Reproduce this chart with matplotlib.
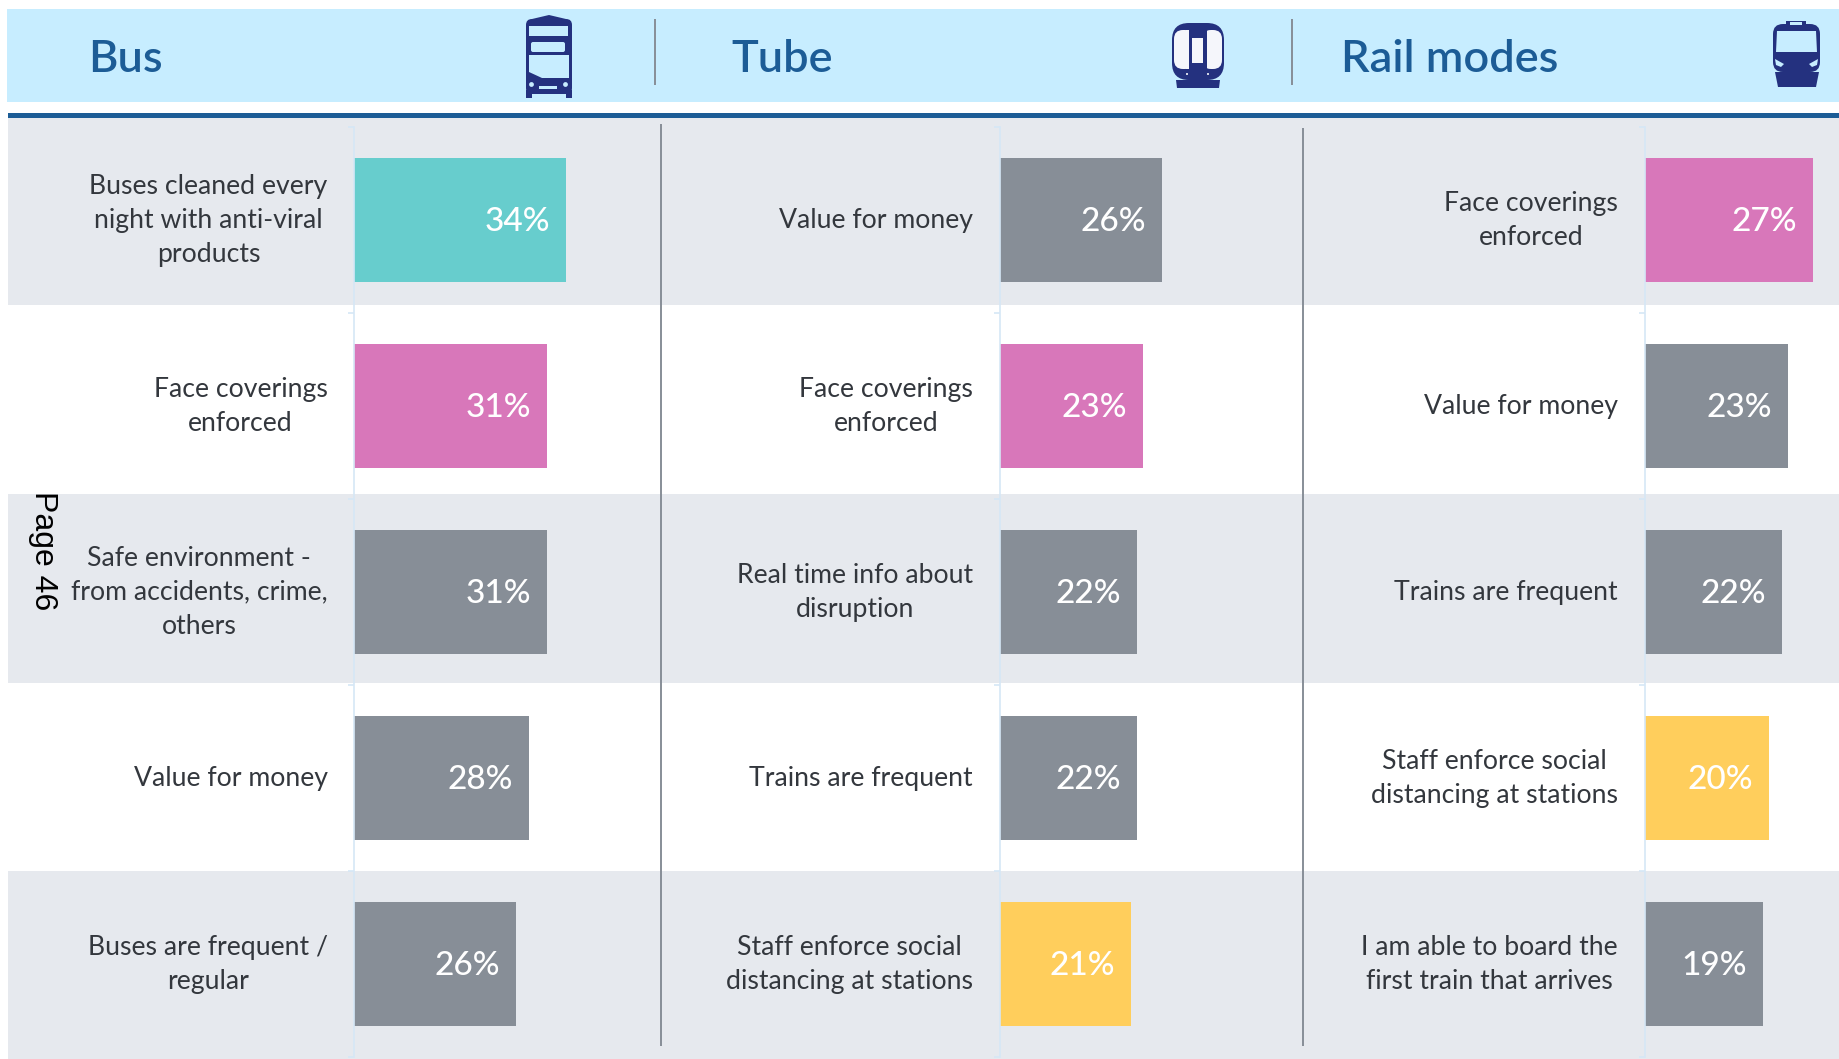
"""Top reasons by mode: bus, tube and rail, one bar panel per mode."""
import matplotlib

matplotlib.use("Agg")
import matplotlib.pyplot as plt
import numpy as np
from matplotlib.patches import Circle, FancyBboxPatch, Polygon, Rectangle

W, H = 1839, 1059

modes = ["Bus", "Tube", "Rail modes"]

bus_labels = [
    "Buses cleaned every\nnight with anti-viral\nproducts",
    "Face coverings\nenforced",
    "Safe environment -\nfrom accidents, crime,\nothers",
    "Value for money",
    "Buses are frequent /\nregular",
]
tube_labels = [
    "Value for money",
    "Face coverings\nenforced",
    "Real time info about\ndisruption",
    "Trains are frequent",
    "Staff enforce social\ndistancing at stations",
]
rail_labels = [
    "Face coverings\nenforced",
    "Value for money",
    "Trains are frequent",
    "Staff enforce social\ndistancing at stations",
    "I am able to board the\nfirst train that arrives",
]

bus_values = [34, 31, 31, 28, 26]
tube_values = [26, 23, 22, 22, 21]
rail_values = [27, 23, 22, 20, 19]

TEAL = "#67CDCD"
PINK = "#D877BA"
GREY = "#878E97"
YELLOW = "#FFCE5C"
NAVY = "#24317F"
HEADER = "#C7EDFF"
BAND = "#E6E9EE"
RULE = "#1C5C96"
AXIS = "#D6E7F6"
INK = "#33373D"
PALE = "#F5F6FB"

bus_colors = [TEAL, PINK, GREY, GREY, GREY]
tube_colors = [GREY, PINK, GREY, GREY, YELLOW]
rail_colors = [PINK, GREY, GREY, YELLOW, GREY]

plt.rcParams["font.family"] = ["Lato", "DejaVu Sans"]

fig = plt.figure(figsize=(W / 100, H / 100), dpi=100)

# backdrop and header work in pixel coordinates of the page
bg = fig.add_axes([0, 0, 1, 1])
bg.set_xlim(0, W)
bg.set_ylim(H, 0)
bg.axis("off")


def rect(x0, y0, x1, y1, color, **kw):
    bg.add_patch(Rectangle((x0, y0), x1 - x0, y1 - y0, facecolor=color, edgecolor="none", **kw))


def rounded(x0, y0, x1, y1, r, color):
    bg.add_patch(
        FancyBboxPatch(
            (x0 + r, y0 + r), x1 - x0 - 2 * r, y1 - y0 - 2 * r,
            boxstyle=f"round,pad={r},rounding_size={r}",
            facecolor=color, edgecolor="none",
        )
    )


def poly(points, color):
    bg.add_patch(Polygon(points, facecolor=color, edgecolor="none"))


def draw_bus():
    poly([(532, 19), (549, 15), (566, 19), (570, 26), (530, 26), (528, 26)], NAVY)
    rounded(526, 19, 572, 94, 6, NAVY)
    rect(526, 90, 532, 98, NAVY)
    rect(566, 90, 572, 98, NAVY)
    rect(529, 26, 568, 36, HEADER)
    rounded(531, 42, 565, 52, 2, HEADER)
    poly([(529, 55), (569, 55), (569, 78), (542, 78), (529, 72)], HEADER)
    bg.add_patch(Circle((531.5, 84.5), 2.4, facecolor=HEADER, edgecolor="none"))
    bg.add_patch(Circle((565.5, 84.5), 2.4, facecolor=HEADER, edgecolor="none"))
    rect(539, 86, 557, 89, HEADER)


def draw_tube():
    rounded(1172, 23, 1224, 80, 17, NAVY)
    rounded(1174, 30, 1194, 69, 9, PALE)
    rect(1186, 30, 1189, 69, PALE)
    rect(1189, 28, 1195, 71, NAVY)
    rounded(1202, 30, 1222, 69, 9, PALE)
    rect(1201, 28, 1207, 71, NAVY)
    rect(1192, 38, 1203, 63, PALE)
    poly([(1176, 80), (1220, 80), (1219, 88), (1177, 88)], NAVY)
    bg.add_patch(Circle((1187, 74), 1, facecolor="white", edgecolor="none"))
    bg.add_patch(Circle((1208, 74), 1, facecolor="white", edgecolor="none"))


def draw_rail():
    rounded(1773, 24, 1820, 72, 10, NAVY)
    rect(1786, 21, 1806, 27, NAVY)
    rect(1790, 22, 1802, 25, HEADER)
    poly([(1777, 31), (1816, 31), (1817, 52), (1776, 52)], HEADER)
    poly([(1775, 59), (1784, 64), (1781, 67), (1776, 65)], HEADER)
    poly([(1818, 59), (1809, 64), (1812, 67), (1817, 65)], HEADER)
    poly([(1775, 72), (1819, 72), (1816, 87), (1778, 87)], NAVY)


rect(7, 9, W, 102, HEADER)
rect(8, 113, W, 118, RULE)
for top, bottom in [(118, 305), (494, 683), (871, 1059)]:
    rect(8, top, W, bottom, BAND)

bg.plot([655.5, 655.5], [19, 85], color=GREY, lw=1.4, solid_capstyle="butt")
bg.plot([1292, 1292], [19, 85], color=GREY, lw=1.4, solid_capstyle="butt")
bg.plot([661, 661], [124, 1046], color=GREY, lw=1.4, solid_capstyle="butt")
bg.plot([1303, 1303], [128, 1046], color=GREY, lw=1.4, solid_capstyle="butt")

for x, title in zip([88, 731, 1341], modes):
    bg.text(x, 59, title, color=RULE, fontsize=32.5, fontweight="semibold", ha="left", va="center")

draw_bus()
draw_tube()
draw_rail()

PX_PER_PCT = 6.24
AX_TOP, AX_BOTTOM = 127, 1057

panels = [
    (354, 40, bus_labels, bus_values, bus_colors),
    (999.5, 40, tube_labels, tube_values, tube_colors),
    (1644.5, 30, rail_labels, rail_values, rail_colors),
]

for x0, xmax, labels, values, colors in panels:
    ax = fig.add_axes([x0 / W, 1 - AX_BOTTOM / H, xmax * PX_PER_PCT / W, (AX_BOTTOM - AX_TOP) / H])
    ax.patch.set_alpha(0)
    y = np.arange(len(values))
    ax.barh(y, values, height=0.667, color=colors)
    ax.set_xlim(0, xmax)
    ax.set_ylim(len(values) - 0.5, -0.5)
    ax.xaxis.set_visible(False)
    for side in ["top", "right", "bottom"]:
        ax.spines[side].set_visible(False)
    ax.spines["left"].set_color(AXIS)
    ax.spines["left"].set_linewidth(1.2)
    ax.set_yticks(y, labels)
    ax.set_yticks(np.arange(len(values) + 1) - 0.5, minor=True)
    ax.tick_params(axis="y", which="major", length=0, pad=19, labelsize=19.2, labelcolor=INK)
    ax.tick_params(axis="y", which="minor", length=4.5, width=1.2, color=AXIS)
    for tick in ax.get_yticklabels():
        tick.set_multialignment("center")
        tick.set_linespacing(1.45)
        tick.set_verticalalignment("center")
    for yi, v in zip(y, values):
        ax.annotate(f"{v}%", (v, yi), xytext=(-16, -2), textcoords="offset pixels",
                    ha="right", va="center", color="white", fontsize=24, fontweight="medium")

fig.text(43 / W, 1 - 551 / H, "Page 46", rotation=270, ha="center", va="center",
         fontsize=23, color="black", family="Liberation Sans")

fig.savefig("out.png", dpi=100)
plt.close(fig)
